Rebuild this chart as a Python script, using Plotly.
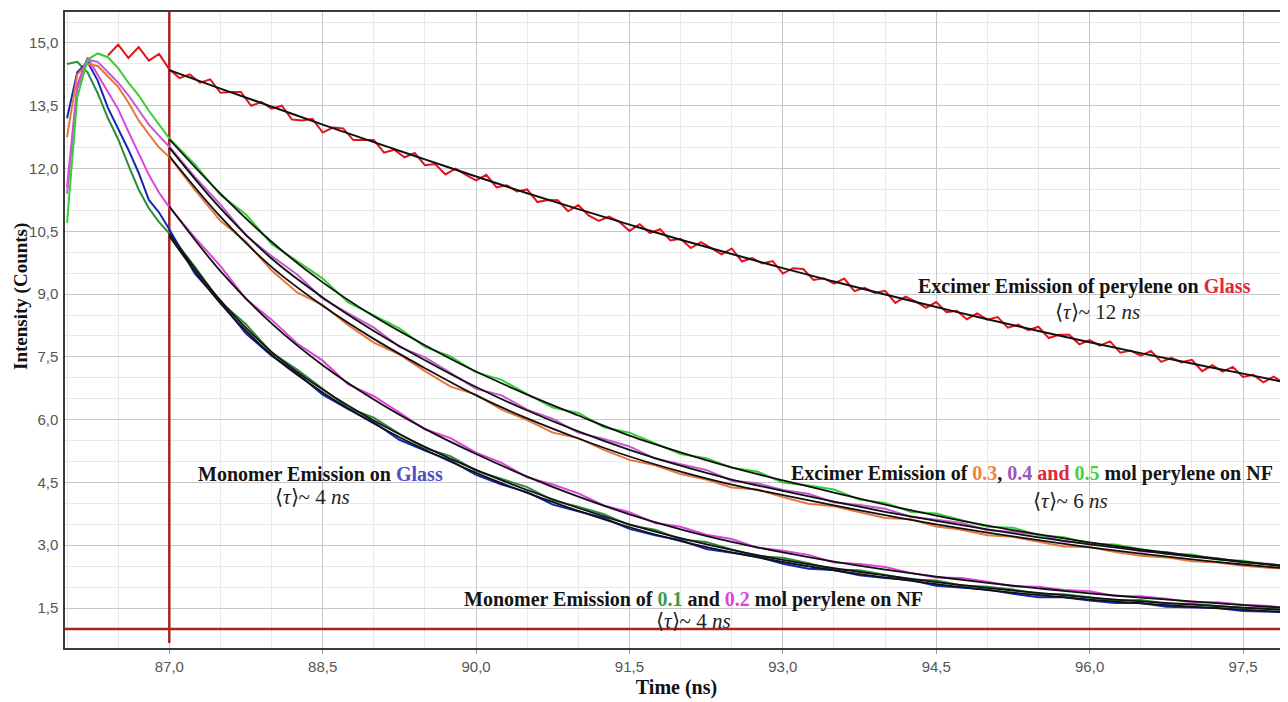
import plotly.graph_objects as go

# ---------------- data ----------------
# common time grid for the NF / monomer data curves (ns)
T_DATA = [86.0, 86.1, 86.2, 86.3, 86.4, 86.5, 86.6, 86.7, 86.8, 86.9, 87.0,
          87.25, 87.5, 87.75, 88.0, 88.25, 88.5, 88.75, 89.0, 89.25, 89.5, 89.75,
          90.0, 90.25, 90.5, 90.75, 91.0, 91.25, 91.5, 91.75, 92.0, 92.25, 92.5,
          92.75, 93.0, 93.25, 93.5, 93.75, 94.0, 94.25, 94.5, 94.75, 95.0, 95.25,
          95.5, 95.75, 96.0, 96.25, 96.5, 96.75, 97.0, 97.25, 97.5, 97.75, 97.94]

EXC_05 = [10.70, 13.70, 14.60, 14.75, 14.66, 14.40, 14.05, 13.75, 13.38, 13.05, 12.72,
          12.10, 11.37, 10.90, 10.20, 9.79, 9.37, 8.80, 8.49, 8.18, 7.74, 7.51,
          7.13, 6.95, 6.61, 6.29, 6.16, 5.82, 5.69, 5.43, 5.18, 5.08, 4.85,
          4.76, 4.50, 4.43, 4.33, 4.09, 4.01, 3.80, 3.76, 3.60, 3.44, 3.42,
          3.24, 3.19, 3.03, 3.02, 2.91, 2.79, 2.78, 2.66, 2.63, 2.54, 2.50]
EXC_04 = [11.40, 13.90, 14.60, 14.55, 14.30, 14.05, 13.75, 13.40, 13.05, 12.78, 12.52,
          11.80, 11.14, 10.40, 9.91, 9.47, 8.89, 8.54, 8.20, 7.74, 7.49, 7.12,
          6.74, 6.58, 6.24, 6.02, 5.69, 5.54, 5.36, 5.07, 4.94, 4.80, 4.54,
          4.48, 4.32, 4.23, 4.02, 3.96, 3.87, 3.68, 3.61, 3.53, 3.36, 3.32,
          3.25, 3.09, 3.05, 2.99, 2.85, 2.84, 2.74, 2.69, 2.59, 2.56, 2.49]
EXC_03 = [12.75, 14.25, 14.50, 14.45, 14.20, 13.95, 13.58, 13.15, 12.82, 12.50, 12.28,
          11.49, 10.75, 10.25, 9.57, 9.04, 8.74, 8.26, 7.84, 7.56, 7.16, 6.79,
          6.60, 6.24, 5.99, 5.69, 5.56, 5.28, 5.04, 4.91, 4.70, 4.57, 4.38,
          4.33, 4.15, 3.99, 3.93, 3.79, 3.65, 3.62, 3.45, 3.37, 3.24, 3.20,
          3.08, 2.97, 2.96, 2.84, 2.75, 2.71, 2.62, 2.59, 2.51, 2.46, 2.44]
MON_02 = [11.55, 14.00, 14.65, 14.25, 13.85, 13.42, 12.88, 12.38, 11.85, 11.42, 11.08,
          10.35, 9.67, 8.88, 8.39, 7.82, 7.41, 6.84, 6.56, 6.17, 5.77, 5.56,
          5.21, 4.97, 4.62, 4.45, 4.24, 3.95, 3.79, 3.53, 3.44, 3.25, 3.15,
          2.94, 2.87, 2.77, 2.59, 2.55, 2.48, 2.34, 2.23, 2.22, 2.13, 2.02,
          2.01, 1.93, 1.90, 1.79, 1.78, 1.72, 1.64, 1.64, 1.58, 1.55, 1.50]
MON_01 = [14.50, 14.55, 14.30, 13.80, 13.20, 12.70, 12.08, 11.50, 11.05, 10.72, 10.45,
          9.65, 8.81, 8.28, 7.60, 7.20, 6.74, 6.28, 6.05, 5.66, 5.32, 5.13,
          4.78, 4.59, 4.39, 4.07, 3.92, 3.74, 3.48, 3.37, 3.14, 3.08, 2.90,
          2.74, 2.70, 2.57, 2.42, 2.40, 2.29, 2.18, 2.16, 2.04, 2.01, 1.94,
          1.84, 1.83, 1.76, 1.68, 1.69, 1.61, 1.60, 1.55, 1.50, 1.49, 1.45]
MON_GLASS = [13.20, 14.30, 14.55, 14.10, 13.45, 12.95, 12.45, 11.90, 11.25, 10.95, 10.55,
             9.49, 8.81, 8.06, 7.53, 7.11, 6.60, 6.25, 5.94, 5.52, 5.26, 5.02,
             4.68, 4.45, 4.27, 3.97, 3.81, 3.65, 3.39, 3.24, 3.12, 2.91, 2.82,
             2.73, 2.56, 2.44, 2.41, 2.28, 2.22, 2.17, 2.03, 1.98, 1.94, 1.84,
             1.76, 1.76, 1.68, 1.62, 1.62, 1.53, 1.52, 1.50, 1.43, 1.42, 1.40]

# excimer emission of perylene on glass (red data)
T_RED = [86.4, 86.5, 86.6, 86.7, 86.8, 86.9, 87.0, 87.1, 87.2, 87.3, 87.4, 87.5,
         87.6, 87.7, 87.8, 87.9, 88.0, 88.1, 88.2, 88.3, 88.4, 88.5, 88.6, 88.7,
         88.8, 88.9, 89.0, 89.1, 89.2, 89.3, 89.4, 89.5, 89.6, 89.7, 89.8, 89.9,
         90.0, 90.1, 90.2, 90.3, 90.4, 90.5, 90.6, 90.7, 90.8, 90.9, 91.0, 91.1,
         91.2, 91.3, 91.4, 91.5, 91.6, 91.7, 91.8, 91.9, 92.0, 92.1, 92.2, 92.3,
         92.4, 92.5, 92.6, 92.7, 92.8, 92.9, 93.0, 93.1, 93.2, 93.3, 93.4, 93.5,
         93.6, 93.7, 93.8, 93.9, 94.0, 94.1, 94.2, 94.3, 94.4, 94.5, 94.6, 94.7,
         94.8, 94.9, 95.0, 95.1, 95.2, 95.3, 95.4, 95.5, 95.6, 95.7, 95.8, 95.9,
         96.0, 96.1, 96.2, 96.3, 96.4, 96.5, 96.6, 96.7, 96.8, 96.9, 97.0, 97.1,
         97.2, 97.3, 97.4, 97.5, 97.6, 97.7, 97.8, 97.9]
EXC_GLASS = [14.70, 14.96, 14.64, 14.90, 14.58, 14.74, 14.37, 14.16, 14.25, 14.05, 14.13, 13.81,
             13.83, 13.83, 13.50, 13.59, 13.43, 13.50, 13.17, 13.15, 13.19, 12.86, 12.98, 12.96,
             12.68, 12.68, 12.68, 12.38, 12.45, 12.27, 12.37, 12.08, 12.11, 11.86, 12.00, 11.85,
             11.72, 11.85, 11.55, 11.60, 11.45, 11.50, 11.20, 11.25, 11.24, 10.98, 11.13, 10.88,
             10.75, 10.85, 10.73, 10.51, 10.67, 10.46, 10.55, 10.28, 10.32, 10.10, 10.24, 10.10,
             9.95, 10.09, 9.78, 9.86, 9.73, 9.79, 9.49, 9.62, 9.60, 9.34, 9.38, 9.25,
             9.37, 9.07, 9.15, 9.03, 9.08, 8.79, 8.94, 8.82, 8.67, 8.81, 8.57, 8.60,
             8.40, 8.54, 8.39, 8.45, 8.20, 8.27, 8.14, 8.22, 7.95, 8.03, 8.03, 7.80,
             7.90, 7.77, 7.87, 7.60, 7.65, 7.53, 7.64, 7.38, 7.48, 7.37, 7.43, 7.16,
             7.30, 7.15, 7.26, 7.02, 7.07, 6.89, 7.03, 6.87]

# fitted decay curves (black)
T_FIT = [87.0, 87.5, 88.0, 88.5, 89.0, 89.5, 90.0, 90.5, 91.0, 91.5, 92.0, 92.5,
         93.0, 93.5, 94.0, 94.5, 95.0, 95.5, 96.0, 96.5, 97.0, 97.5, 97.94]
FIT_EXC_GLASS = [14.35, 13.91, 13.48, 13.05, 12.63, 12.22, 11.81, 11.41, 11.03, 10.66, 10.30, 9.96,
                 9.62, 9.30, 8.99, 8.69, 8.40, 8.12, 7.85, 7.59, 7.34, 7.10, 6.88]
FIT_EXC_05 = [12.70, 11.40, 10.25, 9.28, 8.47, 7.78, 7.15, 6.60, 6.10, 5.62, 5.22, 4.86,
              4.55, 4.26, 3.97, 3.71, 3.47, 3.26, 3.07, 2.90, 2.75, 2.61, 2.50]
FIT_EXC_04 = [12.50, 11.05, 9.85, 8.92, 8.12, 7.42, 6.78, 6.22, 5.72, 5.28, 4.90, 4.57,
              4.30, 4.04, 3.80, 3.58, 3.38, 3.19, 3.02, 2.87, 2.73, 2.60, 2.49]
FIT_EXC_03 = [12.30, 10.85, 9.65, 8.72, 7.93, 7.23, 6.58, 6.03, 5.55, 5.12, 4.76, 4.45,
              4.20, 3.95, 3.72, 3.50, 3.30, 3.12, 2.95, 2.80, 2.66, 2.54, 2.44]
FIT_MON_02 = [11.10, 9.55, 8.30, 7.30, 6.48, 5.78, 5.18, 4.64, 4.16, 3.74, 3.38, 3.08,
              2.83, 2.61, 2.42, 2.25, 2.10, 1.97, 1.85, 1.75, 1.66, 1.57, 1.50]
FIT_MON_01 = [10.45, 8.85, 7.62, 6.72, 5.98, 5.35, 4.80, 4.32, 3.89, 3.50, 3.17, 2.89,
              2.65, 2.45, 2.28, 2.12, 1.98, 1.86, 1.75, 1.66, 1.58, 1.51, 1.45]
FIT_MON_GLASS = [10.38, 8.78, 7.55, 6.65, 5.91, 5.28, 4.73, 4.25, 3.82, 3.43, 3.10, 2.83,
                 2.60, 2.40, 2.23, 2.07, 1.93, 1.81, 1.70, 1.61, 1.53, 1.46, 1.40]

# cursor cross-hair of the instrument software
CURSOR_TIME = 87.0
CURSOR_LEVEL = 1.0

X_RANGE = [85.98, 97.94]
Y_RANGE = [0.545, 15.74]

# ---------------- styling ----------------
SERIF = "Liberation Serif, Times New Roman, serif"
SANS = "Liberation Sans, Arial, sans-serif"

C_RED = "#e3141c"
C_GREEN = "#35cf35"
C_VIOLET = "#c659d2"
C_ORANGE = "#e8763a"
C_MAGENTA = "#dc44dc"
C_DKGREEN = "#2f8a3c"
C_BLUE = "#1428b0"
C_CURSOR = "#a82424"

fig = go.Figure()

# cursor cross-hair, drawn first so the curves pass over it
fig.add_trace(go.Scatter(x=[CURSOR_TIME, CURSOR_TIME], y=[Y_RANGE[0] + 0.12, Y_RANGE[1]],
                         mode="lines", line=dict(color=C_CURSOR, width=2.5),
                         hoverinfo="skip", showlegend=False))
fig.add_trace(go.Scatter(x=X_RANGE, y=[CURSOR_LEVEL, CURSOR_LEVEL],
                         mode="lines", line=dict(color=C_CURSOR, width=2.5),
                         hoverinfo="skip", showlegend=False))

data_series = [
    (MON_01, C_DKGREEN, "0.1 mol monomer"),
    (MON_GLASS, C_BLUE, "Monomer on glass"),
    (MON_02, C_MAGENTA, "0.2 mol monomer"),
    (EXC_03, C_ORANGE, "0.3 mol excimer"),
    (EXC_04, C_VIOLET, "0.4 mol excimer"),
    (EXC_05, C_GREEN, "0.5 mol excimer"),
]
for ys, col, name in data_series:
    fig.add_trace(go.Scatter(x=T_DATA, y=ys, mode="lines", name=name,
                             line=dict(color=col, width=2), showlegend=False))

for ys in [FIT_MON_GLASS, FIT_MON_01, FIT_MON_02, FIT_EXC_03, FIT_EXC_04, FIT_EXC_05]:
    fig.add_trace(go.Scatter(x=T_FIT, y=ys, mode="lines", name="fit",
                             line=dict(color="#111111", width=1.8, shape="spline"),
                             showlegend=False))

fig.add_trace(go.Scatter(x=T_RED, y=EXC_GLASS, mode="lines", name="Excimer on glass",
                         line=dict(color=C_RED, width=2), showlegend=False))
fig.add_trace(go.Scatter(x=T_FIT, y=FIT_EXC_GLASS, mode="lines", name="fit glass",
                         line=dict(color="#111111", width=2, shape="spline"),
                         showlegend=False))

def tau(v):
    return "\u27e8<i>\u03c4</i>\u27e9~ " + v + " <i>ns</i>"

ann_font = dict(family=SERIF, size=20, color="#141414")
tau_font = dict(family=SERIF, size=21, color="#222222")
annotations = [
    (95.95, 9.17, "<b>Excimer Emission of perylene on <span style='color:#e0283a'>Glass</span></b>", ann_font),
    (96.08, 8.58, tau("12"), tau_font),
    (88.48, 4.71, "<b>Monomer Emission on <span style='color:#4f4fc4'>Glass</span></b>", ann_font),
    (88.40, 4.16, tau("4"), tau_font),
    (95.44, 4.71, "<b>Excimer Emission of <span style='color:#f0843a'>0.3</span>, "
                  "<span style='color:#9a58b8'>0.4</span> <span style='color:#e0283a'>and</span> "
                  "<span style='color:#44d044'>0.5</span> mol perylene on NF</b>", ann_font),
    (95.81, 4.06, tau("6"), tau_font),
    (92.13, 1.70, "<b>Monomer Emission of <span style='color:#3a9a50'>0.1</span> and "
                  "<span style='color:#e040e0'>0.2</span> mol perylene on NF</b>", ann_font),
    (92.13, 1.20, tau("4"), tau_font),
]
for ax, ay, txt, fnt in annotations:
    fig.add_annotation(x=ax, y=ay, xref="x", yref="y", text=txt, showarrow=False,
                       font=fnt, xanchor="center", yanchor="middle")

# y-axis title, placed a little above the plot centre as in the original
fig.add_annotation(x=-0.036, y=0.5535, xref="paper", yref="paper",
                   text="<b>Intensity (Counts)</b>", textangle=-90, showarrow=False,
                   font=dict(family=SERIF, size=19, color="#111111"),
                   xanchor="center", yanchor="middle")

# page body has an 8px margin: figure size/margins compensate for it
fig.update_layout(
    width=1280, height=694,
    margin=dict(l=57, r=0, t=4, b=54, autoexpand=False),
    paper_bgcolor="white", plot_bgcolor="white",
    separators=",.",
    showlegend=False,
    xaxis=dict(
        range=X_RANGE, tick0=87.0, dtick=1.5, tickformat=".1f",
        showgrid=True, gridcolor="#c6c6c6", gridwidth=1,
        minor=dict(tick0=87.0, dtick=0.5, showgrid=True, gridcolor="#e9e9e9", gridwidth=1),
        showline=True, linecolor="#3a3a3a", linewidth=1.5, mirror=True,
        ticks="outside", ticklen=4, tickcolor="#9a9a9a",
        zeroline=False, automargin=False,
        tickfont=dict(family=SANS, size=15, color="#555555"),
        title=dict(text="<b>Time (ns)</b>", font=dict(family=SERIF, size=20, color="#111111"),
                   standoff=6),
    ),
    yaxis=dict(
        range=Y_RANGE, tick0=0, dtick=1.5, tickformat=".1f",
        showgrid=True, gridcolor="#c6c6c6", gridwidth=1,
        minor=dict(tick0=0, dtick=0.5, showgrid=True, gridcolor="#e9e9e9", gridwidth=1),
        showline=True, linecolor="#3a3a3a", linewidth=1.5, mirror=False,
        ticks="outside", ticklen=2, tickcolor="#ffffff",
        zeroline=False, automargin=False,
        tickfont=dict(family=SANS, size=15, color="#555555"),
    ),
)

fig.write_html("out.html")
